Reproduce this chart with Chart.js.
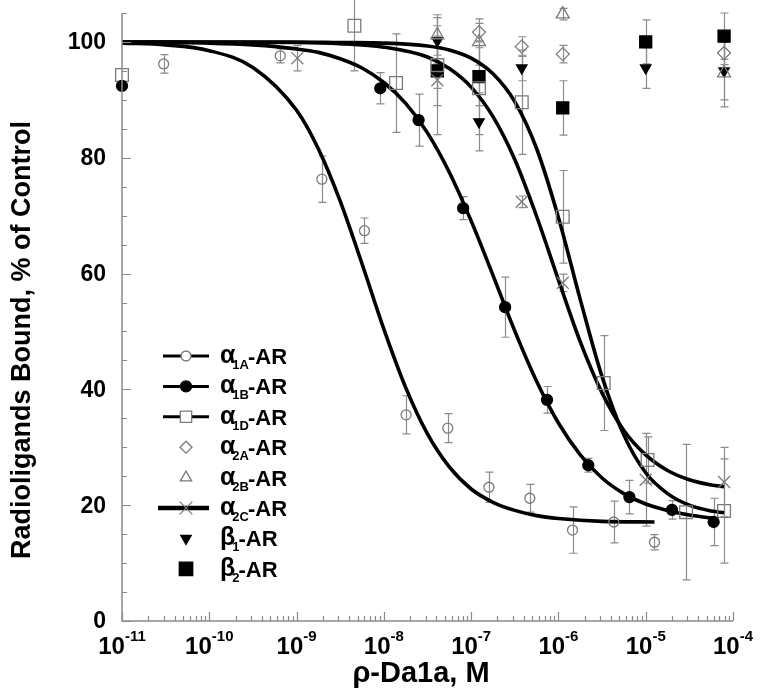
<!DOCTYPE html>
<html>
<head>
<meta charset="utf-8">
<title>Radioligand binding vs ρ-Da1a</title>
<script src="https://cdn.jsdelivr.net/npm/chart.js@4.4.1/dist/chart.umd.min.js"></script>
<style>
  html, body { margin: 0; padding: 0; background: #fff; }
  #wrap { width: 760px; height: 699px; }
</style>
</head>
<body>
<div id="wrap"><canvas id="chart" width="760" height="699"></canvas></div>
<script>
// measured points (concentration M, % of control, error)
const a1aX = [3e-11, 6.5e-10, 1.95e-9, 6e-9, 1.8e-8, 5.4e-8, 1.6e-7, 4.7e-7, 1.45e-6, 4.3e-6, 1.26e-5];
const a1aY = [96.2, 97.6, 76.3, 67.4, 35.6, 33.3, 23.1, 21.2, 15.7, 17.1, 13.6];
const a1aErr = [1.6, 1.2, 4.0, 2.2, 3.3, 2.5, 2.6, 2.4, 4.0, 3.6, 1.3];

const a1bX = [1e-11, 9.1e-9, 2.5e-8, 8.1e-8, 2.45e-7, 7.4e-7, 2.2e-6, 6.5e-6, 2e-5, 6e-5];
const a1bY = [92.4, 92.0, 86.5, 71.3, 54.2, 38.2, 26.9, 21.4, 19.2, 17.1];
const a1bErr = [0, 2.7, 4.5, 2.0, 5.2, 2.3, 1.2, 2.9, 1.6, 4.1];

const a1dX = [1e-11, 4.6e-9, 1.38e-8, 4.1e-8, 1.23e-7, 3.8e-7, 1.12e-6, 3.3e-6, 1.05e-5, 2.9e-5, 7.9e-5];
const a1dY = [94.3, 102.8, 92.9, 96.0, 92.0, 89.6, 69.8, 41.1, 27.8, 18.8, 19.0];
const a1dErr = [0, 7.8, 8.5, 4.0, 8.0, 9.0, 8.0, 8.2, 4.0, 11.7, 9.0];

const a2aX = [1.23e-7, 3.8e-7, 1.12e-6, 7.9e-5];
const a2aY = [101.7, 99.2, 97.9, 98.1];
const a2aErr = [1.5, 1.7, 1.5, 2.0];

const a2bX = [4.1e-8, 1.23e-7, 1.12e-6, 7.9e-5];
const a2bY = [101.2, 100.0, 104.8, 94.6];
const a2bErr = [3.5, 4.0, 1.0, 5.8];

const a2cX = [1.02e-9, 4.1e-8, 3.8e-7, 1.12e-6, 1e-5, 7.9e-5];
const a2cY = [97.2, 93.4, 72.4, 58.4, 24.4, 24.0];
const a2cErr = [2.2, 9.4, 1.0, 1.5, 8.0, 6.0];

const b1X = [4.1e-8, 1.23e-7, 3.8e-7, 1e-5, 7.9e-5];
const b1Y = [100.2, 86.2, 95.5, 95.5, 95.0];
const b1Err = [4.0, 5.0, 2.2, 3.5, 5.0];

const b2X = [4.1e-8, 1.23e-7, 1.12e-6, 1e-5, 7.9e-5];
const b2Y = [95.0, 94.0, 88.6, 100.0, 101.0];
const b2Err = [6.0, 5.0, 4.7, 3.8, 4.0];

// fitted curves
const fitA1aX = [1e-11, 3.16e-11, 1e-10, 3.16e-10, 1e-9, 1.78e-9, 3.16e-9, 5.62e-9, 1e-8, 1.78e-8, 3.16e-8, 5.62e-8, 1e-7, 1.78e-7, 3.16e-7, 5.62e-7, 1e-6, 3.16e-6, 1.26e-5];
const fitA1aY = [99.8, 99.5, 98.5, 95.6, 88.2, 81.5, 72.5, 61.7, 50.4, 40.3, 32.3, 26.6, 22.8, 20.5, 19.1, 18.2, 17.7, 17.2, 17.1];

const fitA1bX = [1e-11, 1e-10, 3.16e-10, 1e-9, 1.78e-9, 3.16e-9, 5.62e-9, 1e-8, 1.78e-8, 3.16e-8, 5.62e-8, 1e-7, 1.78e-7, 3.16e-7, 5.62e-7, 1e-6, 1.78e-6, 3.16e-6, 5.62e-6, 1e-5, 1.78e-5, 3.16e-5, 6.3e-5];
const fitA1bY = [100.0, 99.8, 99.5, 98.8, 98.2, 97.1, 95.5, 93.0, 89.4, 84.3, 77.5, 69.1, 59.7, 50.1, 41.4, 34.2, 28.7, 24.7, 22.0, 20.2, 19.1, 18.3, 17.7];

const fitA1dX = [1e-11, 1e-9, 3.16e-9, 1e-8, 3.16e-8, 5.62e-8, 1e-7, 1.78e-7, 3.16e-7, 5.62e-7, 1e-6, 1.78e-6, 3.16e-6, 5.62e-6, 1e-5, 1.78e-5, 3.16e-5, 5.62e-5, 7.9e-5];
const fitA1dY = [100.0, 100.0, 99.9, 99.8, 99.3, 98.6, 97.2, 94.5, 89.7, 81.6, 69.7, 55.5, 42.2, 32.1, 25.6, 22.0, 20.0, 19.0, 18.7];

const fitA2cX = [1e-11, 1e-9, 3.16e-9, 1e-8, 3.16e-8, 5.62e-8, 1e-7, 1.78e-7, 3.16e-7, 5.62e-7, 1e-6, 1.78e-6, 3.16e-6, 5.62e-6, 1e-5, 1.78e-5, 3.16e-5, 5.62e-5, 7.9e-5];
const fitA2cY = [100.0, 99.9, 99.7, 99.1, 97.4, 95.4, 92.2, 87.1, 79.7, 69.9, 58.9, 48.2, 39.4, 32.9, 28.7, 26.0, 24.4, 23.5, 23.2];

const xTickExps = [-11, -10, -9, -8, -7, -6, -5, -4];
const yTickLabels = [0, 20, 40, 60, 80, 100];

const GRAY = "#7a7a7a";
const BAR = "#8c8c8c";
const FONT = "'Liberation Sans', Arial, sans-serif";

function pts(xs, ys) {
  return xs.map((x, i) => ({ x, y: ys[i] }));
}

function fitSet(xs, ys, width) {
  return {
    data: pts(xs, ys),
    borderColor: "#000",
    borderWidth: width,
    pointRadius: 0,
    cubicInterpolationMode: "monotone",
    showLine: true,
    clip: false,
  };
}

function pointSet(xs, ys, err, style, r, fill, stroke, rot) {
  return {
    data: pts(xs, ys),
    err,
    showLine: false,
    pointStyle: style,
    pointRadius: r,
    pointRotation: rot || 0,
    pointBackgroundColor: fill,
    pointBorderColor: stroke,
    pointBorderWidth: 1.3,
    clip: false,
  };
}

const LEGEND = [
  { g: "α", sub: "1A", line: 3, style: "circle", r: 5, fill: "#fff", stroke: GRAY },
  { g: "α", sub: "1B", line: 3, style: "circle", r: 5.5, fill: "#000", stroke: "#000" },
  { g: "α", sub: "1D", line: 3, style: "rect", r: 8, fill: "#fff", stroke: GRAY },
  { g: "α", sub: "2A", line: 0, style: "rectRot", r: 6, fill: "#fff", stroke: GRAY },
  { g: "α", sub: "2B", line: 0, style: "triangle", r: 6.5, fill: "#fff", stroke: GRAY },
  { g: "α", sub: "2C", line: 4.5, style: "crossRot", r: 9, fill: "#fff", stroke: GRAY },
  { g: "β", sub: "1", line: 0, style: "triangle", r: 6, fill: "#000", stroke: "#000", rot: 180 },
  { g: "β", sub: "2", line: 0, style: "rect", r: 9.5, fill: "#000", stroke: "#000" },
];

function marker(ctx, item, x, y) {
  ctx.save();
  ctx.fillStyle = item.fill;
  ctx.strokeStyle = item.stroke;
  ctx.lineWidth = 1.3;
  Chart.helpers.drawPoint(ctx, { pointStyle: item.style, radius: item.r, rotation: item.rot || 0, borderWidth: 1.3 }, x, y);
  ctx.restore();
}

function drawErrorBars(chart) {
  const ctx = chart.ctx;
  const xs = chart.scales.x, ys = chart.scales.y;
  ctx.save();
  ctx.strokeStyle = BAR;
  ctx.lineWidth = 1.2;
  chart.data.datasets.forEach((ds) => {
    if (!ds.err) return;
    ds.data.forEach((p, i) => {
      const e = ds.err[i];
      if (!e) return;
      const px = Math.round(xs.getPixelForValue(p.x)) + 0.5;
      const top = ys.getPixelForValue(p.y + e);
      const bot = ys.getPixelForValue(p.y - e);
      ctx.beginPath();
      ctx.moveTo(px, top); ctx.lineTo(px, bot);
      ctx.moveTo(px - 4, top); ctx.lineTo(px + 4, top);
      ctx.moveTo(px - 4, bot); ctx.lineTo(px + 4, bot);
      ctx.stroke();
    });
  });
  ctx.restore();
}

function drawAxes(chart) {
  const ctx = chart.ctx;
  const area = chart.chartArea;
  const xs = chart.scales.x, ys = chart.scales.y;
  ctx.save();
  ctx.strokeStyle = "#8a8a8a";
  ctx.lineWidth = 1.5;
  ctx.beginPath();
  ctx.moveTo(area.left, area.top);
  ctx.lineTo(area.left, area.bottom);
  ctx.lineTo(area.right, area.bottom);
  ctx.stroke();

  // inward ticks
  ctx.lineWidth = 1.2;
  ctx.beginPath();
  for (let v = 0; v <= 105; v += 5) {
    const py = Math.round(ys.getPixelForValue(v)) + 0.5;
    const len = v % 20 === 0 ? 9 : 5;
    ctx.moveTo(area.left, py); ctx.lineTo(area.left + len, py);
  }
  xTickExps.forEach((e, k) => {
    const dec = Math.pow(10, e);
    const px = Math.round(xs.getPixelForValue(dec)) + 0.5;
    ctx.moveTo(px, area.bottom); ctx.lineTo(px, area.bottom - 9);
    if (k === xTickExps.length - 1) return;
    for (let m = 2; m <= 9; m++) {
      const mx = Math.round(xs.getPixelForValue(m * dec)) + 0.5;
      ctx.moveTo(mx, area.bottom); ctx.lineTo(mx, area.bottom - 5);
    }
  });
  ctx.stroke();

  // tick labels
  ctx.fillStyle = "#000";
  ctx.font = `bold 23px ${FONT}`;
  ctx.textAlign = "right";
  ctx.textBaseline = "middle";
  yTickLabels.forEach((v) => {
    ctx.fillText(String(v), area.left - 16, ys.getPixelForValue(v) + 1);
  });

  ctx.textBaseline = "alphabetic";
  xTickExps.forEach((e) => {
    const px = xs.getPixelForValue(Math.pow(10, e));
    const base = "10", sup = "-" + Math.abs(e);
    ctx.font = `bold 24px ${FONT}`;
    const wb = ctx.measureText(base).width;
    ctx.font = `bold 15px ${FONT}`;
    const ws = ctx.measureText(sup).width;
    const x0 = px - (wb + ws) / 2;
    ctx.textAlign = "left";
    ctx.font = `bold 24px ${FONT}`;
    ctx.fillText(base, x0, area.bottom + 33);
    ctx.font = `bold 15px ${FONT}`;
    ctx.fillText(sup, x0 + wb, area.bottom + 20);
  });
  ctx.restore();
}

function drawTitles(chart) {
  const ctx = chart.ctx;
  ctx.save();
  ctx.fillStyle = "#000";
  ctx.textAlign = "center";
  ctx.textBaseline = "middle";
  ctx.font = `bold 29px ${FONT}`;
  ctx.fillText("ρ-Da1a, M", 421, 674);
  ctx.translate(23, 340);
  ctx.rotate(-Math.PI / 2);
  ctx.font = `bold 27px ${FONT}`;
  ctx.fillText("Radioligands Bound, % of Control", 0, 0);
  ctx.restore();
}

function drawLegend(chart) {
  const ctx = chart.ctx;
  const x0 = 163, x1 = 209, mx = 186, tx = 220;
  let y = 356;
  ctx.save();
  LEGEND.forEach((item) => {
    if (item.line) {
      ctx.strokeStyle = "#000";
      ctx.lineWidth = item.line;
      ctx.beginPath();
      ctx.moveTo(x0 - (item.line > 3 ? 5 : 0), y);
      ctx.lineTo(x1, y);
      ctx.stroke();
    }
    marker(ctx, item, mx, y);
    ctx.fillStyle = "#000";
    ctx.textAlign = "left";
    ctx.textBaseline = "alphabetic";
    ctx.font = `bold 25px ${FONT}`;
    ctx.fillText(item.g, tx, y + 7);
    const wg = ctx.measureText(item.g).width;
    ctx.font = `bold 13px ${FONT}`;
    ctx.fillText(item.sub, tx + wg - 3, y + 13);
    const wsub = ctx.measureText(item.sub).width;
    ctx.font = `bold 22px ${FONT}`;
    ctx.fillText("-AR", tx + wg + wsub - 4, y + 8);
    y += 30.4;
  });
  ctx.restore();
}

const decor = {
  id: "decor",
  beforeDatasetsDraw(chart) { drawErrorBars(chart); },
  afterDraw(chart) {
    drawAxes(chart);
    drawLegend(chart);
    drawTitles(chart);
  },
};

new Chart(document.getElementById("chart"), {
  type: "line",
  data: {
    datasets: [
      pointSet(a1aX, a1aY, a1aErr, "circle", 5, "rgba(0,0,0,0)", GRAY),
      pointSet(a1bX, a1bY, a1bErr, "circle", 5.5, "#000", "#000"),
      pointSet(a1dX, a1dY, a1dErr, "rect", 9, "rgba(0,0,0,0)", GRAY),
      pointSet(a2aX, a2aY, a2aErr, "rectRot", 6.5, "rgba(0,0,0,0)", GRAY),
      pointSet(a2bX, a2bY, a2bErr, "triangle", 7.5, "rgba(0,0,0,0)", GRAY),
      pointSet(a2cX, a2cY, a2cErr, "crossRot", 8.5, "rgba(0,0,0,0)", GRAY),
      pointSet(b1X, b1Y, b1Err, "triangle", 6, "#000", "#000", 180),
      pointSet(b2X, b2Y, b2Err, "rect", 8.5, "#000", "#000"),
      fitSet(fitA1aX, fitA1aY, 3.6),
      fitSet(fitA1bX, fitA1bY, 3.6),
      fitSet(fitA1dX, fitA1dY, 3.6),
      fitSet(fitA2cX, fitA2cY, 3.6),
    ],
  },
  options: {
    responsive: false,
    animation: false,
    events: [],
    layout: { padding: { left: 122, right: 27, top: 13, bottom: 78 } },
    plugins: { legend: { display: false }, tooltip: { enabled: false } },
    scales: {
      x: {
        type: "logarithmic",
        min: 1e-11,
        max: 1e-4,
        ticks: { display: false },
        grid: { display: false, drawTicks: false },
        border: { display: false },
        afterFit: (s) => { s.height = 0; },
      },
      y: {
        type: "linear",
        min: 0,
        max: 105,
        ticks: { display: false },
        grid: { display: false, drawTicks: false },
        border: { display: false },
        afterFit: (s) => { s.width = 0; },
      },
    },
  },
  plugins: [decor],
});
</script>
</body>
</html>
